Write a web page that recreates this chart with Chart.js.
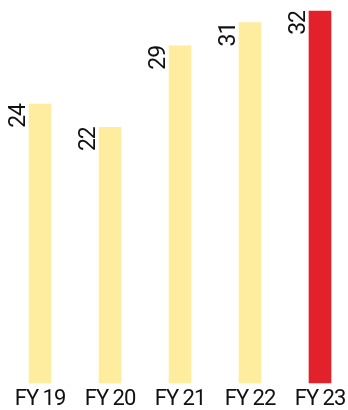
<!DOCTYPE html>
<html>
<head>
<meta charset="utf-8">
<script src="https://cdn.jsdelivr.net/npm/chart.js@4/dist/chart.umd.min.js"></script>
<style>
    html, body { margin: 0; padding: 0; background: #fff; }
    #wrap { width: 348px; height: 410px; }
</style>
</head>
<body>
<div id="wrap"><canvas id="chart"></canvas></div>
<script>
var years = ['FY 19', 'FY 20', 'FY 21', 'FY 22', 'FY 23'];
var values = [24, 22, 29, 31, 32];

var YELLOW = '#FEEC9F';
var RED = '#E3212A';
var FONT = 'Roboto, "Liberation Sans", sans-serif';

// tighter letter spacing for all canvas text (reference font is narrow)
var tightText = {
    id: 'tightText',
    beforeDraw: function (chart) { chart.ctx.letterSpacing = '-1px'; },
    afterDraw: function (chart) { chart.ctx.letterSpacing = '0px'; }
};

// value labels: rotated, placed to the left of each bar top
var barLabels = {
    id: 'barLabels',
    afterDatasetsDraw: function (chart) {
        var ctx = chart.ctx;
        var meta = chart.getDatasetMeta(0);
        ctx.save();
        ctx.fillStyle = '#111';
        ctx.font = '23px ' + FONT;
        ctx.textAlign = 'right';
        ctx.textBaseline = 'alphabetic';
        meta.data.forEach(function (bar, i) {
            ctx.save();
            ctx.translate(bar.x - bar.width / 2 - 4, bar.y);
            ctx.rotate(-Math.PI / 2);
            ctx.fillText(String(values[i]), 0, 0);
            ctx.restore();
        });
        ctx.restore();
    }
};

new Chart(document.getElementById('chart'), {
    type: 'bar',
    data: {
        labels: years,
        datasets: [{
            data: values,
            backgroundColor: values.map(function (v, i) { return i === values.length - 1 ? RED : YELLOW; }),
            barThickness: 22,
            clip: false,
        }],
    },
    options: {
        responsive: true,
        maintainAspectRatio: false,
        animation: false,
        layout: { padding: { left: 40, right: 28, top: 11, bottom: 0 } },
        plugins: { legend: { display: false }, tooltip: { enabled: false } },
        scales: {
            x: {
                offset: false,
                grid: { display: false },
                border: { display: false },
                ticks: { color: '#111', font: { family: FONT, size: 22 }, padding: -5, maxRotation: 0, autoSkip: false },
                afterFit: function (scale) { scale.height = 27; },
            },
            y: {
                display: false,
                min: 0,
                max: 32,
            },
        },
    },
    plugins: [tightText, barLabels],
});
</script>
</body>
</html>
